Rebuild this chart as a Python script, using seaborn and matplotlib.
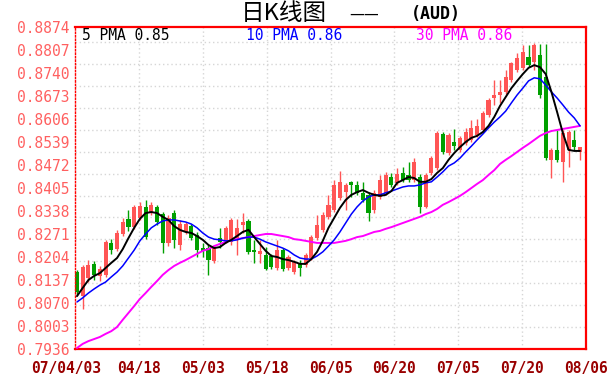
import numpy as np
import pandas as pd
import matplotlib
matplotlib.use("Agg")
import matplotlib.pyplot as plt
import matplotlib.transforms as mtransforms
import seaborn as sns

# AUD daily candles, 07/04/03 .. 08/06 (one entry per session)
opens = [0.8160, 0.8090, 0.8143, 0.8184, 0.8149, 0.8152, 0.8245, 0.8227, 0.8271, 0.8315,
         0.8291, 0.8318, 0.8350, 0.8332, 0.8350, 0.8329, 0.8245, 0.8332, 0.8239, 0.8277,
         0.8294, 0.8268, 0.8230, 0.8230, 0.8192, 0.8259, 0.8254, 0.8248, 0.8259, 0.8297,
         0.8309, 0.8224, 0.8213, 0.8210, 0.8207, 0.8172, 0.8224, 0.8172, 0.8160, 0.8187,
         0.8181, 0.8201, 0.8259, 0.8283, 0.8321, 0.8341, 0.8376, 0.8393, 0.8423, 0.8414,
         0.8391, 0.8385, 0.8341, 0.8379, 0.8391, 0.8437, 0.8420, 0.8449, 0.8443, 0.8428,
         0.8437, 0.8350, 0.8449, 0.8463, 0.8562, 0.8507, 0.8539, 0.8516, 0.8536, 0.8545,
         0.8559, 0.8574, 0.8618, 0.8667, 0.8676, 0.8685, 0.8720, 0.8749, 0.8755, 0.8787,
         0.8772, 0.8792, 0.8728, 0.8487, 0.8516, 0.8481, 0.8516, 0.8545, 0.8510]
closes = [0.8102, 0.8175, 0.8181, 0.8152, 0.8169, 0.8248, 0.8224, 0.8274, 0.8306, 0.8291,
          0.8350, 0.8353, 0.8262, 0.8356, 0.8306, 0.8245, 0.8318, 0.8254, 0.8300, 0.8300,
          0.8259, 0.8224, 0.8222, 0.8195, 0.8233, 0.8248, 0.8289, 0.8312, 0.8289, 0.8306,
          0.8219, 0.8219, 0.8222, 0.8169, 0.8175, 0.8224, 0.8169, 0.8204, 0.8190, 0.8172,
          0.8210, 0.8262, 0.8297, 0.8326, 0.8356, 0.8414, 0.8423, 0.8414, 0.8414, 0.8391,
          0.8370, 0.8332, 0.8391, 0.8428, 0.8443, 0.8414, 0.8446, 0.8428, 0.8428, 0.8481,
          0.8350, 0.8443, 0.8492, 0.8565, 0.8510, 0.8559, 0.8527, 0.8551, 0.8568, 0.8580,
          0.8586, 0.8624, 0.8661, 0.8676, 0.8685, 0.8728, 0.8769, 0.8784, 0.8801, 0.8763,
          0.8822, 0.8676, 0.8492, 0.8516, 0.8487, 0.8565, 0.8568, 0.8524, 0.8524]
highs = [0.8166, 0.8181, 0.8195, 0.8192, 0.8178, 0.8254, 0.8256, 0.8283, 0.8318, 0.8341,
         0.8356, 0.8364, 0.8370, 0.8364, 0.8356, 0.8335, 0.8326, 0.8341, 0.8312, 0.8306,
         0.8300, 0.8277, 0.8245, 0.8239, 0.8239, 0.8289, 0.8294, 0.8318, 0.8315, 0.8332,
         0.8315, 0.8254, 0.8254, 0.8233, 0.8213, 0.8254, 0.8230, 0.8210, 0.8195, 0.8195,
         0.8216, 0.8268, 0.8326, 0.8335, 0.8385, 0.8428, 0.8455, 0.8420, 0.8425, 0.8425,
         0.8423, 0.8391, 0.8399, 0.8443, 0.8452, 0.8449, 0.8463, 0.8466, 0.8481, 0.8492,
         0.8446, 0.8449, 0.8498, 0.8571, 0.8568, 0.8565, 0.8577, 0.8557, 0.8580, 0.8603,
         0.8606, 0.8629, 0.8667, 0.8720, 0.8720, 0.8749, 0.8772, 0.8798, 0.8822, 0.8822,
         0.8827, 0.8825, 0.8825, 0.8522, 0.8574, 0.8574, 0.8574, 0.8574, 0.8524]
lows = [0.8093, 0.8053, 0.8131, 0.8137, 0.8134, 0.8146, 0.8213, 0.8222, 0.8265, 0.8280,
        0.8286, 0.8312, 0.8256, 0.8326, 0.8297, 0.8216, 0.8236, 0.8230, 0.8224, 0.8271,
        0.8254, 0.8204, 0.8204, 0.8152, 0.8187, 0.8230, 0.8245, 0.8239, 0.8210, 0.8274,
        0.8213, 0.8187, 0.8187, 0.8166, 0.8169, 0.8166, 0.8163, 0.8166, 0.8155, 0.8149,
        0.8175, 0.8195, 0.8254, 0.8277, 0.8315, 0.8335, 0.8370, 0.8341, 0.8379, 0.8385,
        0.8364, 0.8309, 0.8332, 0.8373, 0.8385, 0.8408, 0.8414, 0.8423, 0.8423, 0.8423,
        0.8332, 0.8347, 0.8443, 0.8457, 0.8504, 0.8501, 0.8516, 0.8510, 0.8530, 0.8539,
        0.8554, 0.8568, 0.8612, 0.8647, 0.8653, 0.8679, 0.8714, 0.8743, 0.8749, 0.8757,
        0.8749, 0.8667, 0.8487, 0.8434, 0.8481, 0.8423, 0.8466, 0.8516, 0.8487]

# moving averages as printed on the chart
ma5 = [0.8090, 0.8114, 0.8137, 0.8149, 0.8157, 0.8172, 0.8187, 0.8201, 0.8227, 0.8259,
       0.8289, 0.8315, 0.8332, 0.8335, 0.8332, 0.8321, 0.8312, 0.8294, 0.8283, 0.8277,
       0.8274, 0.8265, 0.8254, 0.8239, 0.8230, 0.8233, 0.8245, 0.8254, 0.8265, 0.8277,
       0.8283, 0.8262, 0.8242, 0.8222, 0.8207, 0.8204, 0.8198, 0.8195, 0.8190, 0.8184,
       0.8184, 0.8198, 0.8219, 0.8251, 0.8289, 0.8318, 0.8347, 0.8370, 0.8385, 0.8393,
       0.8399, 0.8391, 0.8385, 0.8382, 0.8385, 0.8396, 0.8420, 0.8428, 0.8437, 0.8434,
       0.8423, 0.8423, 0.8431, 0.8449, 0.8463, 0.8487, 0.8507, 0.8524, 0.8539, 0.8551,
       0.8557, 0.8568, 0.8586, 0.8612, 0.8644, 0.8670, 0.8696, 0.8717, 0.8737, 0.8755,
       0.8763, 0.8757, 0.8737, 0.8685, 0.8626, 0.8565, 0.8516, 0.8513, 0.8513]
ma10 = [0.8073, 0.8085, 0.8099, 0.8111, 0.8122, 0.8131, 0.8146, 0.8160, 0.8178, 0.8201,
        0.8224, 0.8251, 0.8271, 0.8289, 0.8300, 0.8309, 0.8312, 0.8312, 0.8309, 0.8306,
        0.8300, 0.8289, 0.8274, 0.8262, 0.8256, 0.8254, 0.8251, 0.8251, 0.8254, 0.8259,
        0.8262, 0.8262, 0.8256, 0.8248, 0.8242, 0.8236, 0.8230, 0.8222, 0.8210, 0.8201,
        0.8198, 0.8198, 0.8207, 0.8219, 0.8236, 0.8254, 0.8277, 0.8303, 0.8329, 0.8350,
        0.8367, 0.8379, 0.8385, 0.8385, 0.8391, 0.8396, 0.8402, 0.8408, 0.8411, 0.8411,
        0.8414, 0.8420, 0.8423, 0.8437, 0.8452, 0.8469, 0.8478, 0.8492, 0.8510, 0.8527,
        0.8545, 0.8562, 0.8580, 0.8597, 0.8612, 0.8629, 0.8653, 0.8676, 0.8696, 0.8717,
        0.8726, 0.8723, 0.8705, 0.8685, 0.8667, 0.8647, 0.8626, 0.8609, 0.8586]
ma30 = [0.7939, 0.7951, 0.7959, 0.7965, 0.7971, 0.7980, 0.7988, 0.8000, 0.8021, 0.8041,
        0.8061, 0.8082, 0.8099, 0.8117, 0.8134, 0.8152, 0.8166, 0.8178, 0.8187, 0.8195,
        0.8204, 0.8213, 0.8222, 0.8227, 0.8236, 0.8242, 0.8248, 0.8254, 0.8256, 0.8259,
        0.8262, 0.8265, 0.8268, 0.8271, 0.8271, 0.8268, 0.8265, 0.8262, 0.8256, 0.8254,
        0.8251, 0.8248, 0.8245, 0.8245, 0.8245, 0.8245, 0.8248, 0.8251, 0.8256, 0.8262,
        0.8265, 0.8271, 0.8277, 0.8280, 0.8286, 0.8291, 0.8297, 0.8303, 0.8309, 0.8315,
        0.8321, 0.8329, 0.8335, 0.8344, 0.8356, 0.8364, 0.8373, 0.8382, 0.8393, 0.8405,
        0.8417, 0.8428, 0.8443, 0.8457, 0.8475, 0.8487, 0.8498, 0.8510, 0.8522, 0.8533,
        0.8545, 0.8557, 0.8565, 0.8571, 0.8574, 0.8577, 0.8580, 0.8583, 0.8586]

date_labels = ["07/04/03", "04/18", "05/03", "05/18", "06/05", "06/20", "07/05", "07/20", "08/06"]
price_labels = ["0.7936", "0.8003", "0.8070", "0.8137", "0.8204", "0.8271", "0.8338", "0.8405",
                "0.8472", "0.8539", "0.8606", "0.8673", "0.8740", "0.8807", "0.8874"]

df = pd.DataFrame({"open": opens, "close": closes, "high": highs, "low": lows,
                   "ma5": ma5, "ma10": ma10, "ma30": ma30})
df["idx"] = np.arange(len(df))

UP, DOWN = "#FF5555", "#00A000"
RED = "#FF0000"
GRID = "#D6D6D6"
MONO = "DejaVu Sans Mono"
CJK = ["Noto Sans CJK SC", "DejaVu Sans"]

sns.set_style("white")
plt.rcParams["font.family"] = ["DejaVu Sans", "Noto Sans CJK SC"]

fig = plt.figure(figsize=(6.1, 3.75), dpi=100)
ax = fig.add_axes([75 / 610, 1 - 349 / 375, 511 / 610, 322 / 375])

xmin, xmax = -0.35, 89.05
ymin, ymax = 0.7936, 0.8874
xticks = np.linspace(xmin, xmax, len(date_labels))

# dotted grid (horizontal lines of the original run slightly tighter than the labels)
for x in xticks[1:-1]:
    ax.axvline(x, color=GRID, lw=1, ls=(0, (1, 2)), zorder=0)
for y in np.linspace(ymin, 0.8830, 15)[1:]:
    ax.axhline(y, color=GRID, lw=1, ls=(0, (1, 2)), zorder=0)

# candles: red = up, green = down
colors = np.where(df["close"] >= df["open"], UP, DOWN)
ax.vlines(df["idx"], df["low"], df["high"], colors=colors, lw=1, zorder=2)
body_lo = np.minimum(df["open"], df["close"])
body_h = np.maximum((df["close"] - df["open"]).abs(), 0.00012)
ax.bar(df["idx"], body_h, bottom=body_lo, width=0.72, color=colors, linewidth=0, zorder=2)

sns.lineplot(data=df, x="idx", y="ma30", color="#FF00FF", lw=1.4, ax=ax, zorder=3)
sns.lineplot(data=df, x="idx", y="ma10", color="#0000FF", lw=1.1, ax=ax, zorder=3)
sns.lineplot(data=df, x="idx", y="ma5", color="black", lw=1.4, ax=ax, zorder=4)

ax.set_xlim(xmin, xmax)
ax.set_ylim(ymin, ymax)
ax.set_xticks(xticks)
ax.set_xticklabels(date_labels, fontfamily=MONO, fontweight="bold", fontsize=10.5, color="#990000")
ax.set_yticks(np.linspace(ymin, ymax, len(price_labels)))
ax.set_yticklabels(price_labels, fontfamily=MONO, fontsize=10.5, color="#FF6060")
ax.tick_params(axis="both", length=0)
ax.tick_params(axis="x", pad=9)
ax.tick_params(axis="y", pad=4)
ax.set_xlabel("")
ax.set_ylabel("")

# first date label sits a little left of the axis corner
first = ax.get_xticklabels()[0]
first.set_transform(first.get_transform() + mtransforms.ScaledTranslation(-0.09, 0, fig.dpi_scale_trans))

for side in ["top", "right", "bottom"]:
    ax.spines[side].set_color(RED)
    ax.spines[side].set_linewidth(1.6)
ax.spines["left"].set_color(RED)
ax.spines["left"].set_linewidth(1.0)
ax.spines["left"].set_linestyle((0, (1, 1.5)))

# moving-average legend row
ax.text(0.014, 0.975, f"5 PMA {ma5[-1]:.2f}", transform=ax.transAxes, color="black",
        fontfamily=MONO, fontsize=10.5, va="center", ha="left")
ax.text(0.335, 0.975, f"10 PMA {ma10[-1]:.2f}", transform=ax.transAxes, color="#0000FF",
        fontfamily=MONO, fontsize=10.5, va="center", ha="left")
ax.text(0.667, 0.975, f"30 PMA {ma30[-1]:.2f}", transform=ax.transAxes, color="#FF00FF",
        fontfamily=MONO, fontsize=10.5, va="center", ha="left")

# title
fig.text(241 / 610, 1 - 14 / 375, "日K线图", fontfamily=CJK, fontsize=17,
         va="center", ha="left", color="black")
fig.text(349 / 610, 1 - 14 / 375, "——", fontfamily=CJK, fontsize=12,
         va="center", ha="left", color="black")
fig.text(411 / 610, 1 - 14 / 375, "(AUD)", fontfamily=MONO, fontweight="bold",
         fontsize=12, va="center", ha="left", color="black")

fig.savefig("out.png", dpi=100)
